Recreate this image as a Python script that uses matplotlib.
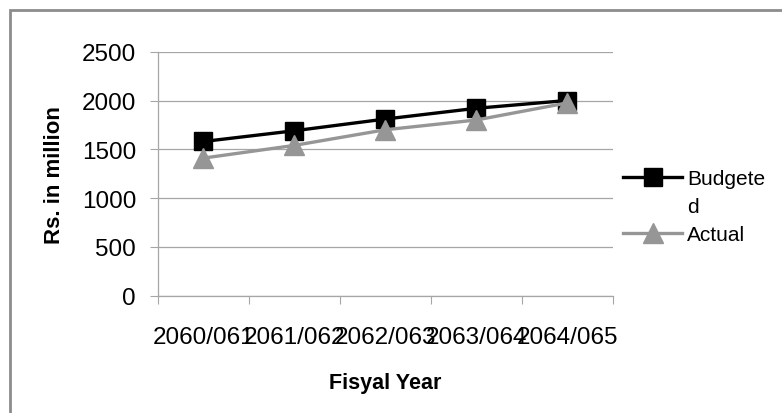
import matplotlib
matplotlib.use("Agg")
import matplotlib.pyplot as plt
from matplotlib.lines import Line2D
from matplotlib.patches import Rectangle

plt.rcParams['font.family'] = ['Liberation Sans', 'DejaVu Sans']

years = ["2060/061", "2061/062", "2062/063", "2063/064", "2064/065"]
budgeted = [1580, 1690, 1810, 1920, 2000]
actual = [1410, 1540, 1700, 1800, 1975]
yticks = [0, 500, 1000, 1500, 2000, 2500]

W, H = 782, 414
fig = plt.figure(figsize=(W / 100, H / 100), dpi=100)

# outer chart frame (open at right and bottom)
fig.patches.append(Rectangle((10 / W, -0.2), 1.5, (1 - 11 / H) + 0.2,
                             transform=fig.transFigure, fill=False,
                             edgecolor='#8c8c8c', linewidth=2.0))

ax = fig.add_axes([158 / W, 1 - 296.7 / H, (612.5 - 158) / W, (296.7 - 52.7) / H])

grid_c = '#a6a6a6'
x = list(range(len(years)))
ax.plot(x, budgeted, color='black', linewidth=2.4, marker='s', markersize=13,
        label='Budgete', zorder=3)
ax.plot(x, actual, color='#969696', linewidth=2.4, marker='^', markersize=15,
        label='Actual', zorder=4)

ax.set_xlim(-0.5, len(years) - 0.5)
ax.set_ylim(0, 2500)
ax.set_yticks(yticks)
ax.set_yticklabels([str(v) for v in yticks], fontsize=17.5)
ax.set_xticks(x)
ax.set_xticklabels(years, fontsize=17.5)
ax.set_xticks([i - 0.5 for i in range(len(years) + 1)], minor=True)

ax.tick_params(axis='x', which='major', length=0, pad=22)
ax.tick_params(axis='x', which='minor', length=5.8, width=0.8, color=grid_c, direction='out')
ax.tick_params(axis='y', length=5.8, width=0.8, color=grid_c, pad=10)

ax.grid(axis='y', color=grid_c, linewidth=0.9)
ax.set_axisbelow(True)
for s in ['top', 'right']:
    ax.spines[s].set_visible(False)
for s in ['left', 'bottom']:
    ax.spines[s].set_color(grid_c)
    ax.spines[s].set_linewidth(0.9)

ax.set_ylabel('Rs. in million', fontsize=16, fontweight='bold', labelpad=12)
ax.set_xlabel('Fisyal Year', fontsize=15.5, fontweight='bold', labelpad=17)

# legend, with the long label wrapping onto a second row
handles = ax.get_lines()
blank = Line2D([], [], linestyle='none')
leg = fig.legend([handles[0], blank, handles[1]], ['Budgete', 'd', 'Actual'],
                 loc='upper left', bbox_to_anchor=(623 / W, 1 - 170 / H),
                 frameon=False, fontsize=15, handlelength=2.84, handletextpad=0.25,
                 labelspacing=0.44, borderpad=0, borderaxespad=0)

fig.savefig('out.png', dpi=100)
